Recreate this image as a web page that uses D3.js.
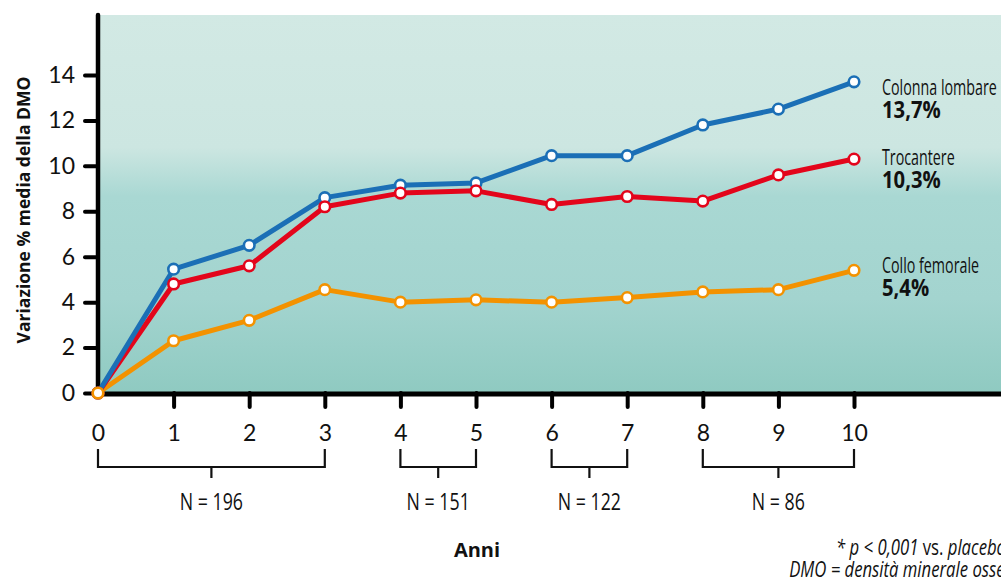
<!DOCTYPE html>
<html>
<head>
<meta charset="utf-8">
<script src="https://cdn.jsdelivr.net/npm/d3@7"></script>
<style>
  html, body { margin: 0; padding: 0; background: #ffffff; }
  svg { display: block; }
</style>
</head>
<body>
<svg id="chart" width="1001" height="581"></svg>
<script>
// Years of follow-up
const years = [0, 1, 2, 3, 4, 5, 6, 7, 8, 9, 10];
const yTicks = [0, 2, 4, 6, 8, 10, 12, 14];

// Mean % change in BMD per site
const colonna = [0, 5.45, 6.5, 8.6, 9.15, 9.25, 10.45, 10.45, 11.8, 12.5, 13.7];
const trocantere = [0, 4.8, 5.6, 8.2, 8.8, 8.9, 8.3, 8.65, 8.45, 9.6, 10.3];
const collo = [0, 2.3, 3.2, 4.55, 4.0, 4.1, 4.0, 4.2, 4.45, 4.55, 5.4];

const seriesNames = ["Colonna lombare", "Trocantere", "Collo femorale"];
const seriesFinal = ["13,7%", "10,3%", "5,4%"];
const seriesColors = ["#1b6fb6", "#e3051b", "#f39200"];

// Patient counts per follow-up interval
const groupStart = [0, 4, 6, 8];
const groupEnd = [3, 5, 7, 10];
const groupLabels = ["N = 196", "N = 151", "N = 122", "N = 86"];

const svg = d3.select("#chart");
const FONT = "'Open Sans', 'DejaVu Sans', sans-serif";

const x = d3.scaleLinear().domain([0, 10]).range([98, 854]);
const y = d3.scaleLinear().domain([0, 14]).range([393, 75]);

// Condensed text: horizontally squeezed around its anchor point
function narrowText(px, py, sx, str) {
  return svg.append("text")
    .attr("transform", `translate(${px},${py}) scale(${sx},1)`)
    .attr("font-family", FONT).attr("fill", "#111")
    .text(str);
}

// Background gradient
const defs = svg.append("defs");
const grad = defs.append("linearGradient").attr("id", "bg")
  .attr("x1", 0).attr("x2", 0).attr("y1", 0).attr("y2", 1);
[[0, "#d2e9e4"], [0.35, "#cce6e1"], [0.48, "#a9d8d3"], [0.75, "#a3d4cf"], [1, "#8fcac1"]]
  .forEach(([o, c]) => grad.append("stop").attr("offset", o).attr("stop-color", c));

svg.append("rect")
  .attr("x", 98).attr("y", 15).attr("width", 1001 - 98).attr("height", 393 - 15)
  .attr("fill", "url(#bg)");

// Y axis
const yAxis = svg.append("g").attr("transform", "translate(98,0)")
  .call(d3.axisLeft(y).tickValues(yTicks).tickSize(13).tickPadding(10));
yAxis.select(".domain").remove();
yAxis.selectAll(".tick line").attr("stroke", "#000").attr("stroke-width", 4)
  .attr("stroke-linecap", "round");
yAxis.selectAll(".tick text")
  .attr("font-family", "Lato, 'Open Sans', sans-serif")
  .attr("font-size", 23).attr("fill", "#111");

svg.append("line")
  .attr("x1", 98).attr("x2", 98).attr("y1", 15).attr("y2", 395)
  .attr("stroke", "#000").attr("stroke-width", 4.5).attr("stroke-linecap", "round");

// X axis
const xAxis = svg.append("g").attr("transform", "translate(0,393)")
  .call(d3.axisBottom(x).tickValues(years).tickSize(14).tickPadding(18)
    .tickFormat(d3.format("d")));
xAxis.select(".domain").remove();
xAxis.selectAll(".tick line").attr("stroke", "#000").attr("stroke-width", 4)
  .attr("stroke-linecap", "round")
  .attr("opacity", d => d === 0 ? 0 : 1);
xAxis.selectAll(".tick text")
  .attr("font-family", "Lato, 'Open Sans', sans-serif")
  .attr("font-size", 23).attr("fill", "#111");

svg.append("line")
  .attr("x1", 96).attr("x2", 1001).attr("y1", 394).attr("y2", 394)
  .attr("stroke", "#000").attr("stroke-width", 5);

// Y axis title
svg.append("text")
  .attr("transform", "translate(30,210) rotate(-90)")
  .attr("text-anchor", "middle")
  .attr("font-family", FONT)
  .attr("font-weight", 700).attr("font-size", 17.5).attr("fill", "#111")
  .text("Variazione % media della DMO");

// Series lines and markers
const allSeries = [colonna, trocantere, collo];
const line = d3.line().x((d, i) => x(years[i])).y(d => y(d));

[2, 1, 0].forEach(k => {
  svg.append("path").datum(allSeries[k])
    .attr("d", line).attr("fill", "none")
    .attr("stroke", seriesColors[k]).attr("stroke-width", 5)
    .attr("stroke-linejoin", "round");
});
[0, 1, 2].forEach(k => {
  svg.append("g").selectAll("circle").data(allSeries[k]).join("circle")
    .attr("cx", (d, i) => x(years[i])).attr("cy", d => y(d)).attr("r", 5.3)
    .attr("fill", "#fff").attr("stroke", seriesColors[k]).attr("stroke-width", 2.6);
});

// End labels
const labelY = [95, 165, 273];
seriesNames.forEach((name, k) => {
  narrowText(882, labelY[k], 0.68, name).attr("font-size", 21);
  narrowText(882, labelY[k] + 23, 0.88, seriesFinal[k])
    .attr("font-size", 23).attr("font-weight", 700);
});

// Follow-up interval brackets
groupLabels.forEach((lab, k) => {
  const x0 = x(groupStart[k]), x1 = x(groupEnd[k]), xm = (x0 + x1) / 2;
  svg.append("path")
    .attr("d", `M${x0},449 V467 H${x1} V449 M${xm},467 V478`)
    .attr("fill", "none").attr("stroke", "#111").attr("stroke-width", 2.2);
  narrowText(xm, 510, 0.74, lab)
    .attr("text-anchor", "middle").attr("font-size", 24);
});

// X axis title
svg.append("text")
  .attr("x", 477).attr("y", 557).attr("text-anchor", "middle")
  .attr("font-family", FONT)
  .attr("font-weight", 700).attr("font-size", 20).attr("fill", "#111")
  .text("Anni");

// Footnotes
const foot1 = narrowText(1006, 555, 0.76, "")
  .attr("text-anchor", "end").attr("font-size", 22);
foot1.append("tspan").attr("font-style", "italic").text("* p < 0,001 ");
foot1.append("tspan").text("vs. ");
foot1.append("tspan").attr("font-style", "italic").text("placebo");
narrowText(1014, 577, 0.76, "DMO = densità minerale ossea")
  .attr("text-anchor", "end").attr("font-size", 22).attr("font-style", "italic");
</script>
</body>
</html>
